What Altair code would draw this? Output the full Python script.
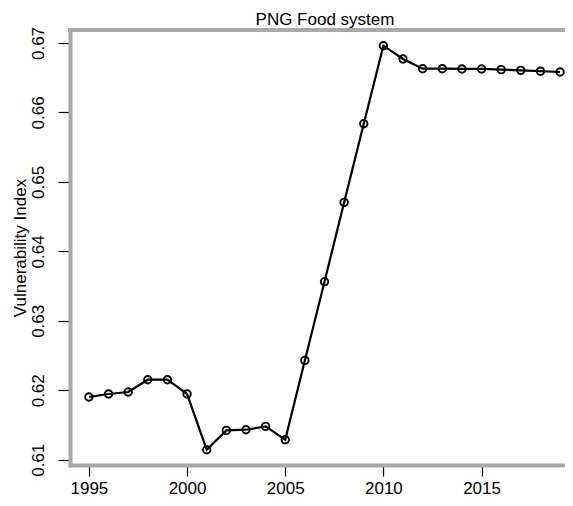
import altair as alt
import pandas as pd

years = list(range(1995, 2020))
vuln = [0.61903, 0.61946, 0.61975, 0.62152, 0.62152, 0.61946, 0.61144, 0.61422,
        0.61432, 0.61480, 0.61288, 0.62430, 0.63563, 0.64705, 0.65838, 0.66961,
        0.66770, 0.66630, 0.66630, 0.66626, 0.66626, 0.66616, 0.66606, 0.66594,
        0.66582]
x_ticks = [1995, 2000, 2005, 2010, 2015]
y_ticks = [0.61, 0.62, 0.63, 0.64, 0.65, 0.66, 0.67]
title_text = ["PNG Food system"]

df = pd.DataFrame({"year": years, "v": vuln})
tdf = pd.DataFrame({"t": title_text})

W, H = 495, 435
FONT = "Liberation Sans"
FRAME = "#a9a9a9"

x = alt.X("year:Q",
          scale=alt.Scale(domain=[1994.037, 2019.25], nice=False, zero=False),
          axis=alt.Axis(values=x_ticks, format="d", title=None, grid=False,
                        domainColor=FRAME, domainWidth=4, domainCap="square",
                        tickColor="black", tickSize=11, tickWidth=1.2,
                        labelFont=FONT, labelFontSize=17, labelColor="black",
                        labelBaseline="alphabetic", labelPadding=17,
                        labelFlush=False))
y = alt.Y("v:Q",
          scale=alt.Scale(domain=[0.60924, 0.67187], nice=False, zero=False),
          axis=alt.Axis(values=y_ticks, format=".2f", title="Vulnerability Index",
                        grid=False, domainColor=FRAME, domainWidth=4, domainCap="square",
                        tickColor="black", tickSize=12, tickWidth=1.2,
                        labelFont=FONT, labelFontSize=17, labelColor="black",
                        labelAngle=270, labelAlign="center", labelBaseline="alphabetic",
                        labelPadding=15, labelFlush=False,
                        titleFont=FONT, titleFontSize=17, titleFontWeight="normal",
                        titleColor="black", titleAngle=270, titleAlign="center",
                        titleBaseline="alphabetic", titleX=-45, titleY=H / 2))

base = alt.Chart(df)
line = base.mark_line(color="black", strokeWidth=2.2).encode(x=x, y=y)
pts = base.mark_point(shape="circle", filled=False, color="black", size=56,
                      strokeWidth=1.9, opacity=1).encode(x=x, y=y)
top = alt.Chart(df).mark_rule(color=FRAME, strokeWidth=4, strokeCap="square").encode(
    x=alt.value(0), x2=alt.value(W), y=alt.value(0))
title = alt.Chart(tdf).mark_text(font=FONT, fontSize=17, color="black", align="center",
                                 baseline="alphabetic").encode(
    text="t:N", x=alt.value(255), y=alt.value(-5))

chart = alt.layer(top, line, pts, title).properties(
    width=W, height=H,
    autosize=alt.AutoSizeParams(type="none"),
    padding={"left": 62, "top": 22, "right": 0, "bottom": 33},
).configure_view(stroke="transparent")

chart.save("out.html", embed_options={"renderer": "svg", "actions": False})
